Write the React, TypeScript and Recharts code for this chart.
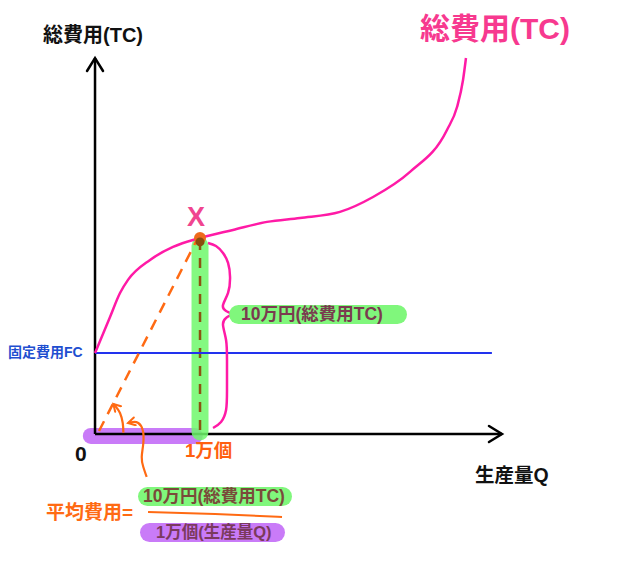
import React from 'react';
import { LineChart, Line, XAxis, YAxis, ReferenceDot } from 'recharts';

// units: x = 生産量 (万個), y = 総費用 (万円)
const xDomain = [-0.905, 5.0];
const yDomain = [-6.48, 22.14];

const tcCurve = [
  { x: 0, y: 4.13 },
  { x: 0.143, y: 5.97 },
  { x: 0.238, y: 7.19 },
  { x: 0.314, y: 7.86 },
  { x: 0.524, y: 8.88 },
  { x: 0.743, y: 9.54 },
  { x: 1.0, y: 10.0 },
  { x: 1.314, y: 10.41 },
  { x: 1.638, y: 10.82 },
  { x: 1.952, y: 11.02 },
  { x: 2.333, y: 11.33 },
  { x: 2.648, y: 12.09 },
  { x: 3.0, y: 13.37 },
  { x: 3.352, y: 15.51 },
  { x: 3.448, y: 16.68 },
  { x: 3.505, y: 18.06 },
  { x: 3.533, y: 19.18 },
];
const fcLine = [
  { x: 0, y: 4.13 },
  { x: 3.78, y: 4.13 },
];
const xAxisLine = [
  { x: 0, y: 0 },
  { x: 3.876, y: 0 },
];
const yAxisLine = [
  { x: 0, y: 0 },
  { x: 0, y: 19.18 },
];
const avgRay = [
  { x: 0.038, y: 0.15 },
  { x: 0.97, y: 9.9 },
];
const qDrop = [
  { x: 1, y: 9.9 },
  { x: 1, y: 0.1 },
];
const greenBar = [
  { x: 1, y: 9.6 },
  { x: 1, y: 0.1 },
];
const purpleBar = [
  { x: -0.04, y: -0.1 },
  { x: 0.95, y: -0.1 },
];
const brace = [
  { x: 1.076, y: 9.745 },
  { x: 1.152, y: 9.592 },
  { x: 1.219, y: 9.235 },
  { x: 1.267, y: 8.724 },
  { x: 1.286, y: 8.01 },
  { x: 1.267, y: 7.194 },
  { x: 1.219, y: 6.582 },
  { x: 1.248, y: 6.276 },
  { x: 1.295, y: 6.122 },
  { x: 1.248, y: 5.918 },
  { x: 1.219, y: 5.561 },
  { x: 1.248, y: 4.796 },
  { x: 1.257, y: 3.776 },
  { x: 1.257, y: 2.245 },
  { x: 1.248, y: 1.224 },
  { x: 1.2, y: 0.612 },
  { x: 1.124, y: 0.306 },
];
const angleArc = [
  { x: 0.27, y: 0.066 },
  { x: 0.264, y: 0.561 },
  { x: 0.238, y: 1.071 },
  { x: 0.2, y: 1.378 },
  { x: 0.174, y: 1.531 },
];
const pointerArc = [
  { x: 0.492, y: -2.194 },
  { x: 0.46, y: -1.684 },
  { x: 0.445, y: -1.173 },
  { x: 0.46, y: -0.459 },
  { x: 0.454, y: 0.204 },
  { x: 0.412, y: 0.561 },
  { x: 0.362, y: 0.612 },
  { x: 0.314, y: 0.561 },
];
const fractionBar = [
  { x: 0.505, y: -3.98 },
  { x: 1.143, y: -4.08 },
  { x: 1.781, y: -4.235 },
];
const pointX = { x: 1, y: 10 };

const FONT = '"Liberation Sans", "Noto Sans CJK JP", sans-serif';

const Label = ({ text, left, cy, size, color, bg, padX = 0, h = 0, w }: any) => (
  <div
    style={{
      position: 'absolute',
      left,
      top: cy - (h || size) / 2,
      height: h || size,
      width: w,
      boxSizing: 'border-box',
      lineHeight: `${h || size}px`,
      fontSize: size,
      fontWeight: 700,
      color,
      fontFamily: FONT,
      whiteSpace: 'nowrap',
      background: bg,
      borderRadius: h / 2,
      padding: `0 0 0 ${padX}px`,
    }}
  >
    {text}
  </div>
);

export default function App() {
  const line = { dot: false, activeDot: false, isAnimationActive: false, dataKey: 'y' } as const;
  return (
    <div style={{ position: 'absolute', left: 0, top: 0, width: 620, height: 561, background: '#fff' }}>
      <LineChart width={620} height={561} margin={{ top: 0, right: 0, bottom: 0, left: 0 }}>
        <defs>
          <marker id="axisArrow" viewBox="0 0 20 20" refX="17" refY="10" markerWidth="20" markerHeight="20" markerUnits="userSpaceOnUse" orient="auto">
            <path d="M4,2 L17,10 L4,18" fill="none" stroke="#000" strokeWidth="2.5" strokeLinecap="round" />
          </marker>
          <marker id="smallArrow" viewBox="0 0 10 10" refX="8" refY="5" markerWidth="10" markerHeight="10" markerUnits="userSpaceOnUse" orient="auto">
            <path d="M1,1 L8,5 L1,9" fill="none" stroke="#ff6a13" strokeWidth="2" strokeLinecap="round" />
          </marker>
        </defs>
        <XAxis type="number" dataKey="x" domain={xDomain} hide allowDataOverflow />
        <YAxis type="number" domain={yDomain} hide allowDataOverflow />

        <Line {...line} data={purpleBar} type="linear" stroke="#c97bf8" strokeWidth={16} strokeLinecap="round" />
        <Line {...line} data={xAxisLine} type="linear" stroke="#000" strokeWidth={2.5} markerEnd="url(#axisArrow)" />
        <Line {...line} data={yAxisLine} type="linear" stroke="#000" strokeWidth={2.5} markerEnd="url(#axisArrow)" />
        <Line {...line} data={greenBar} type="linear" stroke="#6ff86b" strokeOpacity={0.85} strokeWidth={17} strokeLinecap="round" />
        <Line {...line} data={qDrop} type="linear" stroke="#8a5412" strokeWidth={2.5} strokeDasharray="10 8" />
        <Line {...line} data={fcLine} type="linear" stroke="#2233ee" strokeWidth={2} />
        <Line {...line} data={tcCurve} type="monotone" stroke="#ff1aa6" strokeWidth={2.5} />
        <Line {...line} data={avgRay} type="linear" stroke="#ff6a13" strokeWidth={2.5} strokeDasharray="11 8" />
        <Line {...line} data={brace} type="natural" stroke="#ff1aa6" strokeWidth={2.5} />
        <Line {...line} data={angleArc} type="natural" stroke="#ff6a13" strokeWidth={2.2} markerEnd="url(#smallArrow)" />
        <Line {...line} data={pointerArc} type="natural" stroke="#ff6a13" strokeWidth={2.2} markerEnd="url(#smallArrow)" />
        <Line {...line} data={fractionBar} type="natural" stroke="#ff6a13" strokeWidth={2} />
        <ReferenceDot x={pointX.x} y={pointX.y} r={6} fill="#ee6a1c" stroke="none" />
        <ReferenceDot x={pointX.x} y={pointX.y - 0.2} r={4.5} fill="#8a4e0e" stroke="none" />
      </LineChart>

      <Label text="総費用(TC)" left={43} cy={35} size={20} color="#111" />
      <Label text="総費用(TC)" left={420} cy={29} size={30} color="#f7398f" />
      <Label text="X" left={187} cy={217} size={27} color="#f0458f" />
      <Label text="固定費用FC" left={8} cy={352} size={14} color="#1f4fd0" />
      <Label text="0" left={75} cy={453} size={21} color="#111" />
      <Label text="1万個" left={185} cy={451} size={18.5} color="#ff5f0f" />
      <Label text="生産量Q" left={475} cy={476} size={19.5} color="#111" />
      <Label text="10万円(総費用TC)" left={229} cy={314} size={17.5} color="#7a3b4f" bg="#80f77c" padX={12} h={19} w={178} />
      <Label text="平均費用=" left={46} cy={512} size={19} color="#ff6a13" />
      <Label text="10万円(総費用TC)" left={138} cy={496} size={17.5} color="#7a4a3a" bg="#80f77c" padX={5} h={19} w={154} />
      <Label text="1万個(生産量Q)" left={140} cy={532} size={16.5} color="#7b3a5e" bg="#c97bf8" padX={16} h={19} w={145} />
    </div>
  );
}
